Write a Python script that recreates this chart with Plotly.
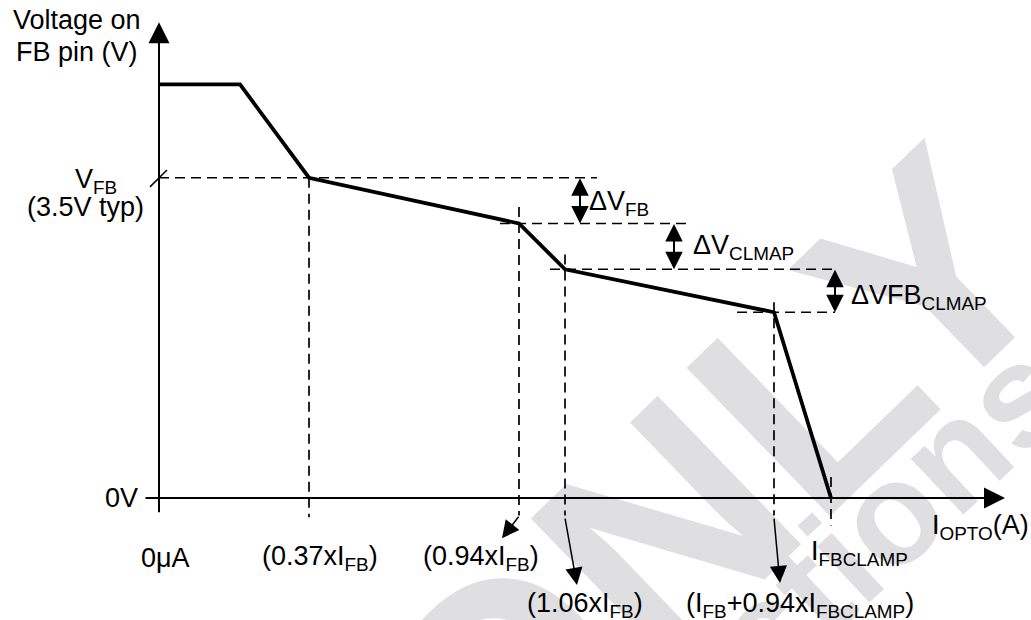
import plotly.graph_objects as go

# schematic units: x = 1 division per 100 px of drawing, y = volts (3.5 V at V_FB)
curve_x = [0, 0.81, 1.50, 3.60, 4.06, 6.15, 6.72]
curve_y = [4.52, 4.52, 3.5, 3.0, 2.5, 2.03, 0]

# dashed guides
h_level = [3.5, 3.0, 2.5, 2.03]
h_from = [0, 3.41, 3.91, 5.78]
h_to = [4.38, 5.28, 6.73, 6.76]

v_pos = [1.50, 3.60, 4.06, 6.15, 6.72]
v_top = [3.5, 3.18, 2.66, 2.14, 0.23]
v_bot = [-0.21, -0.19, -0.19, -0.19, -0.30]

# pointers from guide feet to their labels
ptr_x0 = [3.60, 4.06, 6.15]
ptr_y0 = [-0.20, -0.22, -0.22]
ptr_x1 = [3.43, 4.18, 6.21]
ptr_y1 = [-0.44, -0.95, -0.93]

# delta-V double arrows
dv_x = [4.21, 5.15, 6.76]
dv_hi = [3.5, 3.0, 2.5]
dv_lo = [3.0, 2.5, 2.03]
dv_text = ["ΔV<sub>FB</sub>", "ΔV<sub>CLMAP</sub>", "ΔVFB<sub>CLMAP</sub>"]

x_labels = ["0μA", "(0.37xI<sub>FB</sub>)", "(0.94xI<sub>FB</sub>)",
            "(1.06xI<sub>FB</sub>)", "(I<sub>FB</sub>+0.94xI<sub>FBCLAMP</sub>)",
            "I<sub>FBCLAMP</sub>"]

FONT = "Liberation Sans, Arial, sans-serif"
W, H = 1031, 620
X0, Y0 = 159, 498      # origin in px
SX, SY = 100, 91.5     # px per unit

fig = go.Figure()

for lvl, a, b in zip(h_level, h_from, h_to):
    fig.add_trace(go.Scatter(x=[a, b], y=[lvl, lvl], mode="lines",
                             line=dict(color="black", width=1.7, dash="10px,6px")))
for xp, t, bt in zip(v_pos, v_top, v_bot):
    fig.add_trace(go.Scatter(x=[xp, xp], y=[t, bt], mode="lines",
                             line=dict(color="black", width=1.7, dash="10px,6px")))

# V_FB break mark on the y axis
fig.add_trace(go.Scatter(x=[-0.09, 0.08], y=[3.40, 3.585], mode="lines",
                         line=dict(color="black", width=1.5)))

fig.add_trace(go.Scatter(x=curve_x, y=curve_y, mode="lines",
                         line=dict(color="black", width=3.8)))

arrow_common = dict(xref="x", yref="y", axref="x", ayref="y", text="", showarrow=True,
                    arrowhead=2, arrowcolor="black", standoff=0,
                    font=dict(size=1), borderpad=0)
ann = []
# axes with arrowheads
ann.append(dict(x=8.46, y=0, ax=-0.14, ay=0, arrowsize=2.1, arrowwidth=2, **arrow_common))
ann.append(dict(x=0, y=5.20, ax=0, ay=-0.16, arrowsize=2.1, arrowwidth=2, **arrow_common))

for x0, y0, x1, y1 in zip(ptr_x0, ptr_y0, ptr_x1, ptr_y1):
    ann.append(dict(x=x1, y=y1, ax=x0, ay=y0, arrowsize=2.3, arrowwidth=1.5, **arrow_common))

for xp, hi, lo in zip(dv_x, dv_hi, dv_lo):
    ann.append(dict(x=xp, y=lo, ax=xp, ay=hi, arrowside="end+start", startarrowhead=2,
                    arrowsize=1.75, startarrowsize=1.75, arrowwidth=2, startstandoff=0,
                    **arrow_common))


def px(xp, yp):
    return (xp - X0) / SX, (Y0 - yp) / SY


texts = [
    ("Voltage on", 77, 20),
    ("FB pin (V)", 77, 52),
    ("V<sub>FB</sub>", 96, 181),
    ("(3.5V typ)", 85, 207),
    ("0V", 121, 498),
    (x_labels[0], 165, 558),
    (x_labels[1], 320, 558),
    (x_labels[2], 481, 558),
    (x_labels[3], 585, 605),
    (x_labels[4], 800, 605),
    (x_labels[5], 859, 553),
    ("I<sub>OPTO</sub>(A)", 980, 527),
    (dv_text[0], 619, 203),
    (dv_text[1], 743, 247),
    (dv_text[2], 919, 297),
]
for t, xp, yp in texts:
    xx, yy = px(xp, yp)
    ann.append(dict(x=xx, y=yy, xref="x", yref="y", text=t, showarrow=False,
                    xanchor="center", yanchor="middle",
                    font=dict(family=FONT, size=27, color="black")))

# faint watermark behind the drawing
shapes = []
for txt, cx, cy, ang_dx, ang_dy, size in [("ONLY", 690, 468, 0.719, -0.695, 300),
                                           ("ctions", 880, 505, 0.73, -0.683, 145)]:
    shapes.append(dict(type="line", xref="paper", yref="paper", layer="below",
                       x0=(cx - 100 * ang_dx) / W, y0=1 - (cy - 100 * ang_dy) / H,
                       x1=(cx + 100 * ang_dx) / W, y1=1 - (cy + 100 * ang_dy) / H,
                       line=dict(width=0, color="rgba(0,0,0,0)"),
                       label=dict(text=txt, textposition="middle", yanchor="middle",
                                  font=dict(family=FONT, size=size, color="#dfdfe2",
                                            weight="bold"))))

fig.update_layout(
    width=W, height=H, margin=dict(l=0, r=0, t=0, b=0, pad=0),
    paper_bgcolor="white", plot_bgcolor="white", showlegend=False,
    annotations=ann, shapes=shapes,
    xaxis=dict(range=[-X0 / SX, (W - X0) / SX], visible=False, fixedrange=True),
    yaxis=dict(range=[(Y0 - H) / SY, Y0 / SY], visible=False, fixedrange=True),
)

fig.write_html("out.html", config={"displayModeBar": False},
               post_script="document.body.style.margin='0';")
